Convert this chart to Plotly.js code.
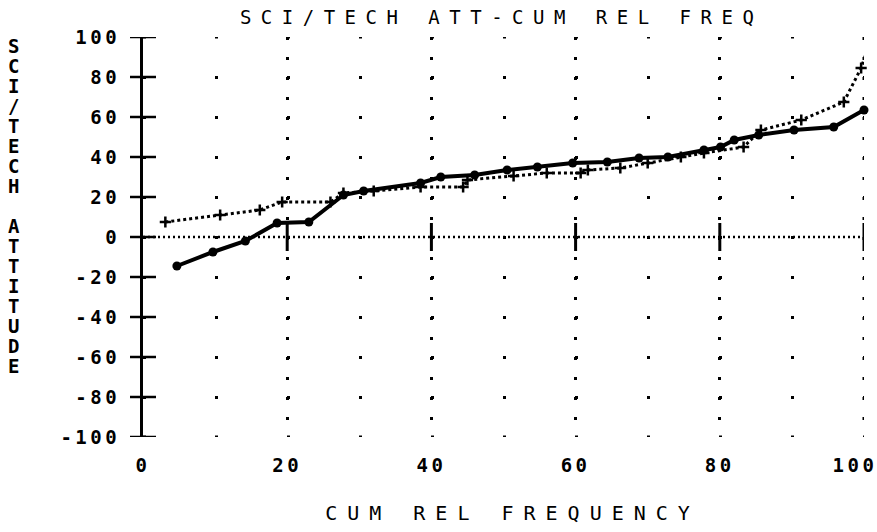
<!DOCTYPE html>
<html>
<head>
<meta charset="utf-8">
<script src="https://cdn.plot.ly/plotly-3.0.1.min.js"></script>
<style>
  html, body { margin: 0; padding: 0; background: #fff; }
  #chart { width: 877px; height: 532px; }
  .gtitle { letter-spacing: 9.5px; }
  .g-xtitle text { letter-spacing: 10px; }
  .xtick text, .ytick text { letter-spacing: 3.5px; }
</style>
</head>
<body>
<div id="chart"></div>
<script>
// ---- data ----
const solidX = [4.7, 9.7, 14.2, 18.6, 23.0, 27.8, 30.6, 38.5, 41.3, 46.0, 50.5, 54.7, 59.6, 64.4, 68.8, 72.8, 77.8, 80.1, 82.0, 85.4, 90.3, 95.8, 100.0];
const solidY = [-14.5, -7.5, -2.0, 7.0, 7.5, 21.0, 23.0, 27.0, 30.0, 31.0, 33.5, 35.0, 37.0, 37.5, 39.5, 40.0, 43.5, 45.0, 48.5, 51.0, 53.5, 55.0, 63.5];

const dotX = [3.1, 10.7, 16.2, 19.3, 26.0, 27.8, 32.0, 38.5, 44.4, 45.0, 51.4, 56.0, 60.7, 61.7, 66.2, 70.0, 74.6, 77.8, 83.3, 85.7, 91.3, 97.2, 99.6, 100.3];
const dotY = [7.5, 11.0, 13.5, 17.5, 17.5, 22.0, 23.0, 25.0, 25.0, 28.5, 30.5, 32.0, 32.0, 33.5, 34.5, 37.0, 40.0, 42.0, 45.0, 53.5, 58.5, 67.5, 84.5, 92.0];

const xTickVals = [0, 20, 40, 60, 80, 100];
const xTickText = ['0', '20', '40', '60', '80', '100'];
const yTickVals = [100, 80, 60, 40, 20, 0, -20, -40, -60, -80, -100];
const yTickText = ['100', '80', '60', '40', '20', '0', '-20', '-40', '-60', '-80', '-100'];
const zeroLineTicks = [20, 40, 60, 80, 100];
const edgeGridY = [100, -100];
const edgeGridX = [100];

const chartTitle = 'SCI/TECH ATT-CUM REL FREQ';
const xTitle = 'CUM REL FREQUENCY';
const yTitle = 'SCI/TECH ATTITUDE';

// ---- styling ----
const FONT = '"DejaVu Sans Mono", "Liberation Mono", monospace';
const ink = '#000';

const traces = [
  {
    x: dotX, y: dotY, type: 'scatter', mode: 'lines+markers',
    line: { color: ink, width: 3, dash: 'dot' },
    marker: { symbol: 'cross-thin', size: 8, line: { color: ink, width: 2.5 } },
    cliponaxis: false, showlegend: false, hoverinfo: 'x+y'
  },
  {
    x: solidX, y: solidY, type: 'scatter', mode: 'lines+markers',
    line: { color: ink, width: 4 },
    marker: { symbol: 'circle', size: 9, color: ink },
    cliponaxis: false, showlegend: false, hoverinfo: 'x+y'
  }
];

const shapes = [];
// dotted grid at the range edges (Plotly drops edge gridlines)
edgeGridY.forEach(v => shapes.push({ type: 'line', xref: 'x', yref: 'y', x0: 0, x1: 100, y0: v, y1: v,
  line: { color: ink, width: 3, dash: '3px,69px' }, layer: 'below' }));
edgeGridX.forEach(v => shapes.push({ type: 'line', xref: 'x', yref: 'y', x0: v, x1: v, y0: 100, y1: -100,
  line: { color: ink, width: 3, dash: '3px,17px' }, layer: 'below' }));
// dotted zero reference line
shapes.push({ type: 'line', xref: 'x', yref: 'y', x0: 0, x1: 101, y0: 0, y1: 0,
  line: { color: ink, width: 2.5, dash: '2px,3px' }, layer: 'below' });
// vertical tick marks on the zero line
zeroLineTicks.forEach(v => shapes.push({ type: 'line', xref: 'x', yref: 'y',
  x0: v, x1: v, y0: -7, y1: 7, line: { color: ink, width: 3 } }));
// y axis ticks crossing the axis line
yTickVals.forEach(v => shapes.push({ type: 'line', xref: 'paper', yref: 'y',
  x0: -0.018, x1: 0.018, y0: v, y1: v, line: { color: ink, width: 2.5 } }));

// stacked upright y title (one letter per line)
const yTitleStacked = yTitle.split('').map(ch =>
  '<span style="font-size:19px">' + (ch === ' ' ? '\u00a0' : ch) + '</span>').join('<br>');

const layout = {
  width: 877, height: 532,
  margin: { l: 143, r: 13, t: 37, b: 95 },
  paper_bgcolor: '#fff', plot_bgcolor: '#fff',
  showlegend: false,
  title: { text: chartTitle, x: 0.572, xanchor: 'center', y: 0.968, yanchor: 'middle', yref: 'container',
    font: { family: FONT, size: 19, color: ink } },
  xaxis: {
    range: [0, 100], tickmode: 'array', tickvals: xTickVals, ticktext: xTickText,
    showline: false, zeroline: false, ticks: '', ticklabelstandoff: 15, ticklabeloverflow: 'allow',
    showgrid: true, gridcolor: ink, gridwidth: 3, griddash: '3px,17px',
    tickfont: { family: FONT, size: 19, color: ink, weight: 'bold' },
    title: { text: xTitle, standoff: 30, font: { family: FONT, size: 20, color: ink } },
    fixedrange: true
  },
  yaxis: {
    range: [-100, 100], tickmode: 'array', tickvals: yTickVals, ticktext: yTickText,
    showline: true, linecolor: ink, linewidth: 3, zeroline: false, ticks: '', ticklabelstandoff: 16,
    showgrid: true, gridcolor: ink, gridwidth: 3, griddash: '3px,69px',
    tickfont: { family: FONT, size: 19, color: ink, weight: 'bold' },
    fixedrange: true
  },
  shapes: shapes,
  annotations: [{
    text: yTitleStacked, xref: 'paper', yref: 'paper',
    x: -0.179, y: 1 - (206 - 37) / 400, xanchor: 'center', yanchor: 'middle', align: 'center',
    showarrow: false, font: { family: FONT, size: 15.4, color: ink, weight: 'bold' }
  }]
};

Plotly.newPlot('chart', traces, layout, { displayModeBar: false, staticPlot: true }).then(gd => {
  // nudge the last x tick label inside the page, as in the reference
  const xt = gd.querySelectorAll('.xtick text');
  if (xt.length) {
    const last = xt[xt.length - 1];
    last.setAttribute('x', (parseFloat(last.getAttribute('x')) || 0) - 9);
  }
  // the x title sits a little right of the plot centre in the reference
  const xtTitle = gd.querySelector('.g-xtitle text');
  if (xtTitle) xtTitle.setAttribute('x', (parseFloat(xtTitle.getAttribute('x')) || 0) + 9);
});
</script>
</body>
</html>
